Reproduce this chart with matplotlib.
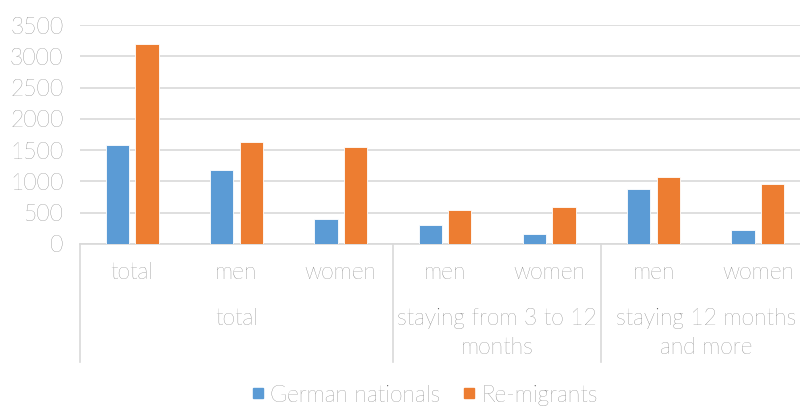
import matplotlib
matplotlib.use('Agg')
import matplotlib.pyplot as plt
import matplotlib.transforms as mtransforms
from matplotlib.lines import Line2D
import numpy as np

# Данные
categories = ['total', 'men', 'women', 'men', 'women', 'men', 'women']
groups = ['total', 'staying from 3 to 12\nmonths', 'staying 12 months\nand more']
group_sizes = [3, 2, 2]
german = [1590, 1190, 400, 305, 165, 875, 225]
remigrants = [3190, 1625, 1550, 545, 595, 1075, 960]
series_names = ['German nationals', 'Re-migrants']
colors = ['#5B9BD5', '#ED7D31']

plt.rcParams['font.family'] = ['Lato', 'DejaVu Sans']
plt.rcParams['font.weight'] = 'light'
text_color = '#595959'
grid_color = '#d9d9d9'
fs = 16.5

fig = plt.figure(figsize=(8, 4.09), dpi=100)
ax = fig.add_axes([80 / 800, 165 / 409, 730 / 800, 219 / 409])

x = np.arange(len(categories))
w = 0.224
ax.bar(x - 0.142, german, w, color=colors[0], edgecolor='white', linewidth=0.6, zorder=3)
ax.bar(x + 0.142, remigrants, w, color=colors[1], edgecolor='white', linewidth=0.6, zorder=3)

ax.set_xlim(-0.5, len(categories) - 0.5)
ax.set_ylim(0, 3500)
ax.set_yticks(range(0, 3501, 500))
ax.yaxis.grid(True, color=grid_color, linewidth=1.2, zorder=0)
ax.tick_params(axis='y', length=0, pad=12, labelsize=fs, labelcolor=text_color)
ax.tick_params(axis='x', length=0, pad=13, labelsize=fs, labelcolor=text_color)
ax.set_xticks(x)
ax.set_xticklabels(categories)
for s in ['top', 'right', 'left']:
    ax.spines[s].set_visible(False)
ax.spines['bottom'].set_color(grid_color)
ax.spines['bottom'].set_linewidth(1.2)

# Второй уровень подписей и разделители
trans = mtransforms.blended_transform_factory(ax.transData, ax.transAxes)
sep_bottom = -(362 - 244) / 219
label_top = -(308 - 244) / 219
start = 0
bounds = [-0.5]
for g, n in zip(groups, group_sizes):
    center = start + (n - 1) / 2
    ax.text(center, label_top, g, transform=trans, ha='center', va='top',
            fontsize=fs, color=text_color, linespacing=1.45)
    start += n
    bounds.append(start - 0.5)
for b in bounds[:-1]:
    ax.plot([b, b], [0, sep_bottom], transform=trans, color=grid_color,
            linewidth=1.2, clip_on=False)

handles = [Line2D([], [], marker='s', linestyle='', markersize=7, color=c) for c in colors]
fig.legend(handles, series_names, loc='center', bbox_to_anchor=(425 / 800, 1 - 395 / 409),
           ncol=2, frameon=False, fontsize=fs, labelcolor=text_color, handlelength=0.5,
           handletextpad=0.3, columnspacing=1.0)

fig.savefig('out.png', dpi=100)
